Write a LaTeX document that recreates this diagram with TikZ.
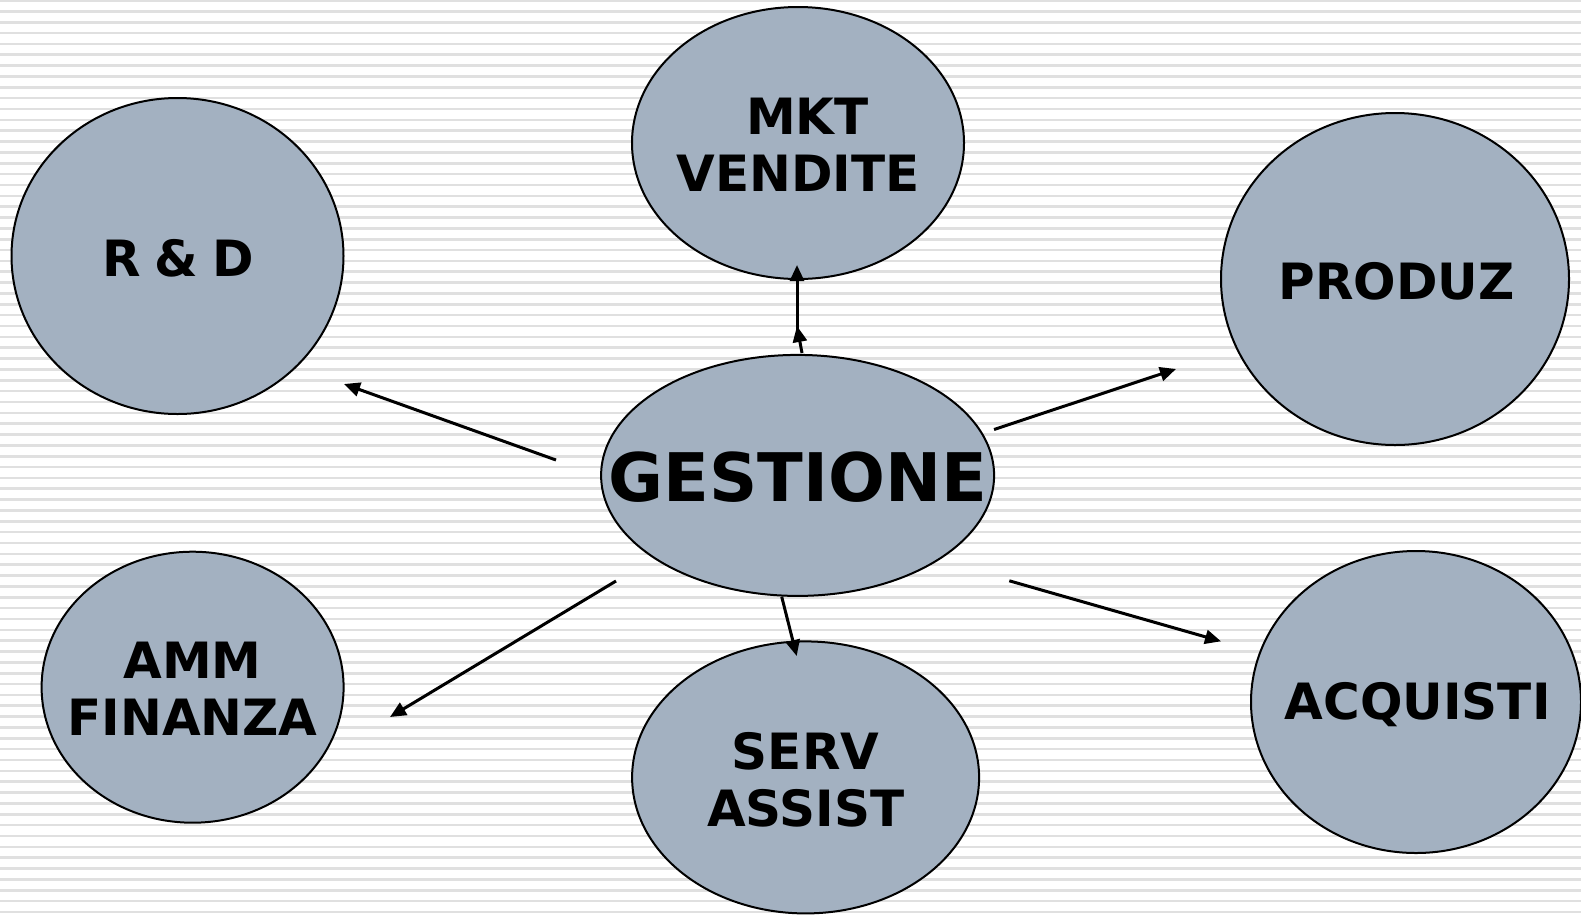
\documentclass[tikz,border=0pt]{standalone}
\usepackage{fontspec}
\setmainfont{DejaVu Sans}
\usetikzlibrary{shapes.geometric,arrows.meta}
\definecolor{blobfill}{RGB}{163,177,193}
\definecolor{stripecol}{RGB}{224,224,224}
\tikzset{
  blob/.style={ellipse,draw=black,line width=2pt,fill=blobfill,inner sep=0pt},
  lbl/.style={font=\fontsize{50}{57.5}\selectfont\bfseries,align=center,inner sep=0pt},
  biglbl/.style={font=\fontsize{67}{70}\selectfont\bfseries,align=center,inner sep=0pt},
  arr/.style={line width=3pt,-{Triangle[length=16pt,width=14pt]}}
}
\begin{document}
\begin{tikzpicture}[x=1pt,y=-1pt]
\useasboundingbox (0,0) rectangle (1581,914);
\fill[white] (0,0) rectangle (1581,914);
\foreach \i in {0,...,84}{
  \fill[stripecol] (0,{\i*10.85-0.8}) rectangle (1581,{\i*10.85+1.8});
}
% ellipses
\node[blob,minimum width=332pt,minimum height=272pt] (mkt) at (798,143) {};
\node[blob,minimum width=332pt,minimum height=316pt] (rd) at (177.5,256) {};
\node[blob,minimum width=348pt,minimum height=332pt] (prod) at (1395,279) {};
\node[blob,minimum width=393pt,minimum height=241pt] (ges) at (797.6,475.4) {};
\node[blob,minimum width=302pt,minimum height=271pt] (amm) at (192.6,687.2) {};
\node[blob,minimum width=347pt,minimum height=272pt] (serv) at (805.6,777.4) {};
\node[blob,minimum width=330pt,minimum height=302pt] (acq) at (1416,702) {};
% labels
\node[lbl] (tmkt) at (798,145) {\hspace*{19pt}MKT\\VENDITE};
\node[lbl] (trd) at (178,258) {R\hspace{14pt}\&\hspace{14pt}D};
\node[lbl] (tprod) at (1396.5,281) {PRODUZ};
\node[biglbl] (tges) at (798,477) {GESTIONE};
\node[lbl] (tamm) at (192.6,689) {AMM\\FINANZA};
\node[lbl] (tserv) at (805.6,780) {SERV\\ASSIST};
\node[lbl] (tacq) at (1417.7,705) {ACQUISTI};
% arrow endpoints
\coordinate (a1s) at (802,353);
\coordinate (a1e) at (797,326);
\coordinate (a2s) at (797,340);
\coordinate (a2e) at (797,265);
\coordinate (rds) at (556,460);
\coordinate (rde) at (344,384);
\coordinate (prs) at (994,429.5);
\coordinate (pre) at (1176,369);
\coordinate (ams) at (616,581);
\coordinate (ame) at (390,717);
\coordinate (svs) at (781.7,596.7);
\coordinate (sve) at (796.7,656);
\coordinate (acs) at (1009.3,580.8);
\coordinate (ace) at (1221,641.3);
% arrows
\draw[arr] (a1s) -- (a1e);
\draw[arr] (a2s) -- (a2e);
\draw[arr] (rds) -- (rde);
\draw[arr] (prs) -- (pre);
\draw[arr] (ams) -- (ame);
\draw[arr] (svs) -- (sve);
\draw[arr] (acs) -- (ace);
\end{tikzpicture}
\end{document}
